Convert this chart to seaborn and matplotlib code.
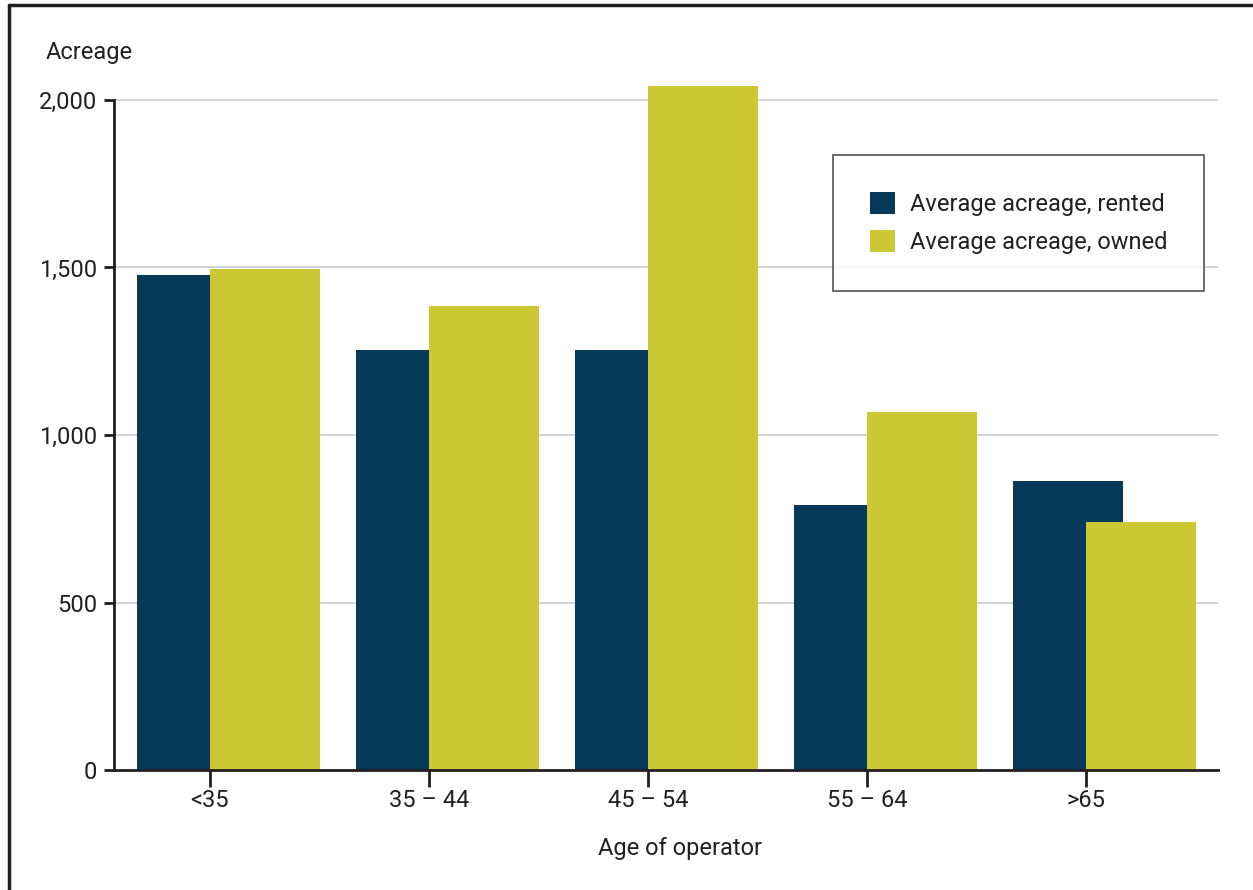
import numpy as np
import pandas as pd
import matplotlib
matplotlib.use("Agg")
import matplotlib.pyplot as plt
from matplotlib.lines import Line2D
from matplotlib.patches import Patch
import seaborn as sns

# Data
age_groups = ["<35", "35 \u2013 44", "45 \u2013 54", "55 \u2013 64", ">65"]
rented = [1477, 1254, 1254, 791, 863]
owned = [1495, 1385, 2042, 1069, 740]
series_names = ["Average acreage, rented", "Average acreage, owned"]
y_ticks = [0, 500, 1000, 1500, 2000]

rented_color = "#073A5A"
owned_color = "#CCC834"
text_color = "#231F20"
fs = 17

sns.set_theme(style="white")
plt.rcParams["font.family"] = ["Roboto", "DejaVu Sans"]

W, H = 1253, 890
fig = plt.figure(figsize=(W / 100, H / 100), dpi=100)

# axes placed in pixel terms
ax_left, ax_right, ax_bottom_px = 114, 1218, 770
y_top_val = 2100
px_per_unit = (770 - 100) / 2000
ax_top_px = ax_bottom_px - y_top_val * px_per_unit
ax = fig.add_axes([ax_left / W, 1 - ax_bottom_px / H,
                   (ax_right - ax_left) / W, (ax_bottom_px - ax_top_px) / H])

idx = np.arange(len(age_groups))
# rented bar sits left of the tick, owned bar starts at the tick (overlapping)
df_r = pd.DataFrame({"pos": idx - 0.082, "value": rented})
df_o = pd.DataFrame({"pos": idx + 0.251, "value": owned})

sns.barplot(data=df_r, x="pos", y="value", native_scale=True, width=0.502,
            color=rented_color, saturation=1, linewidth=0, ax=ax, zorder=2)
sns.barplot(data=df_o, x="pos", y="value", native_scale=True, width=0.502,
            color=owned_color, saturation=1, linewidth=0, ax=ax, zorder=3)

ax.set_xlim(-0.438, len(age_groups) - 1 + 0.603)
ax.set_ylim(0, y_top_val)

# gridlines
for yv in y_ticks[1:]:
    ax.axhline(yv, color="#CCCCCC", linewidth=1.2, zorder=1)

ax.set_yticks(y_ticks)
ax.set_yticklabels([f"{v:,}" for v in y_ticks])
ax.set_xticks(idx)
ax.set_xticklabels(age_groups)

for s in ["top", "right"]:
    ax.spines[s].set_visible(False)
for s in ["left", "bottom"]:
    ax.spines[s].set_color("#231F20")
    ax.spines[s].set_linewidth(2)
    ax.spines[s].set_zorder(4)
ax.spines["left"].set_bounds(0, 2000)

ax.tick_params(axis="y", length=7, width=2, color="#231F20", pad=5,
               labelsize=fs, labelcolor=text_color, left=True)
ax.tick_params(axis="x", length=12, width=2, color="#231F20", pad=2,
               labelsize=fs, labelcolor=text_color, bottom=True)

ax.set_xlabel("Age of operator", fontsize=fs, color=text_color)
ax.xaxis.set_label_coords((679.5 - ax_left) / (ax_right - ax_left),
                          -(848 - ax_bottom_px) / (ax_bottom_px - ax_top_px))
ax.xaxis.label.set_va("center")
ax.set_ylabel("")

fig.text(46 / W, 1 - 52 / H, "Acreage", fontsize=fs, color=text_color,
         ha="left", va="center")

handles = [Patch(facecolor=rented_color, edgecolor="none"),
           Patch(facecolor=owned_color, edgecolor="none")]
leg = ax.legend(handles, series_names, loc="upper right",
                bbox_to_anchor=(1204 / W, 1 - 155 / H),
                bbox_transform=fig.transFigure, fontsize=fs,
                frameon=True, fancybox=False, borderpad=1.55,
                handlelength=1.06, handleheight=1.06, handletextpad=0.64,
                labelspacing=0.6, borderaxespad=0)
leg.get_frame().set_edgecolor("#3A3A3A")
leg.get_frame().set_linewidth(1.3)
for t in leg.get_texts():
    t.set_color(text_color)

# outer frame (top and left edges)
fig.add_artist(Line2D([8.5 / W, 1], [1 - 5 / H, 1 - 5 / H],
                      transform=fig.transFigure, color="#231F20", linewidth=2.5))
fig.add_artist(Line2D([8.5 / W, 8.5 / W], [0, 1 - 5 / H],
                      transform=fig.transFigure, color="#231F20", linewidth=2.5))

fig.savefig("out.png", dpi=100, facecolor="white")
